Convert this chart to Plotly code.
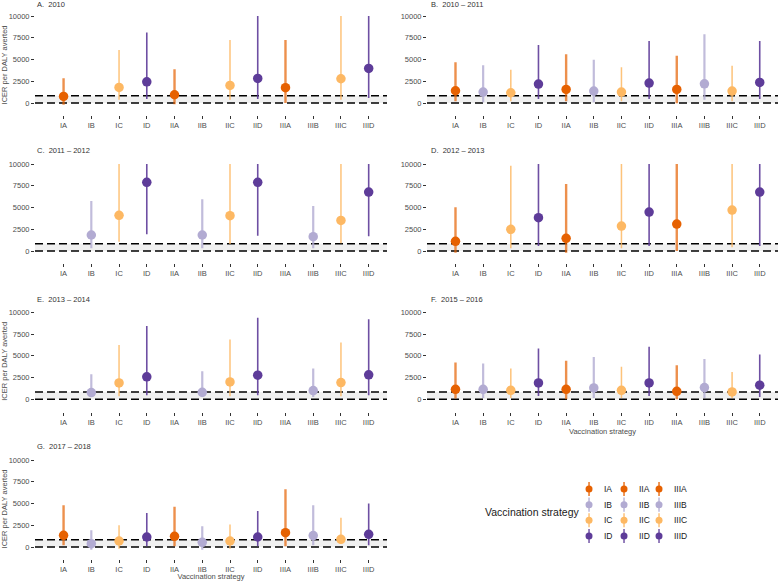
import plotly.graph_objects as go

# === DATOS ===
strategies = ['IA', 'IB', 'IC', 'ID', 'IIA', 'IIB', 'IIC', 'IID', 'IIIA', 'IIIB', 'IIIC', 'IIID']
romans = ['I', 'II', 'III']
letters = ['A', 'B', 'C', 'D']
letter_colors = ['#e66101', '#b2abd2', '#fdb863', '#5e3c99']
line_colors = ['rgba(230,97,1,0.7)', 'rgba(178,171,210,0.8)', 'rgba(253,184,99,0.85)', 'rgba(94,60,153,0.9)']
line_widths = [2.4, 2.2, 1.5, 1.6]
threshold = 830  # linea discontinua superior (umbral)

panel_titles = ['A.  2010', 'B.  2010 – 2011', 'C.  2011 – 2012', 'D.  2012 – 2013',
                'E.  2013 – 2014', 'F.  2015 – 2016', 'G.  2017 – 2018']

# A. 2010
a_est = [760, None, 1790, 2440, 950, None, 2020, 2820, 1760, None, 2790, 3970]
a_lo = [-200, None, 380, 460, -150, None, 380, 460, 0, None, 380, 570]
a_hi = [2860, None, 6100, 8090, 3890, None, 7250, 10000, 7250, None, 10000, 10000]
# B. 2010 - 2011
b_est = [1410, 1260, 1180, 2180, 1560, 1370, 1260, 2290, 1560, 2210, 1370, 2370]
b_lo = [190, 80, 190, 460, 190, 80, 190, 460, -30, 380, 190, 460]
b_hi = [4690, 4350, 3820, 6680, 5610, 4960, 4120, 7140, 5420, 7900, 4270, 7140]
# C. 2011 - 2012
c_est = [None, 1840, 4100, 7890, None, 1840, 4060, 7890, None, 1650, 3520, 6780]
c_lo = [None, 310, 1070, 1920, None, 310, 800, 1760, None, 310, 880, 1690]
c_hi = [None, 5750, 10000, 10000, None, 5940, 10000, 10000, None, 5170, 10000, 10000]
# D. 2012 - 2013
d_est = [1110, None, 2490, 3830, 1460, None, 2870, 4480, 3100, None, 4710, 6780]
d_lo = [-190, None, 310, 570, -190, None, 310, 570, 0, None, 420, 570]
d_hi = [5020, None, 9810, 10000, 7700, None, 10000, 10000, 10000, None, 10000, 10000]
# E. 2013 - 2014
e_est = [None, 770, 1880, 2580, None, 810, 2000, 2770, None, 1000, 1920, 2810]
e_lo = [None, 270, 350, 460, None, 270, 350, 460, None, 270, 350, 460]
e_hi = [None, 2880, 6230, 8420, None, 3230, 6880, 9380, None, 3540, 6540, 9190]
# F. 2015 - 2016
f_est = [1150, 1150, 1040, 1880, 1150, 1310, 1040, 1880, 920, 1350, 850, 1620]
f_lo = [80, 150, 150, 380, 0, 150, 150, 380, 0, 150, 150, 270]
f_hi = [4230, 4120, 3540, 5850, 4420, 4850, 3730, 6040, 3920, 4620, 3150, 5150]
# G. 2017 - 2018
g_est = [1350, 380, 690, 1150, 1230, 540, 690, 1150, 1650, 1310, 880, 1460]
g_lo = [190, -310, -190, 80, 80, -310, -190, 80, 80, 190, 380, 190]
g_hi = [4810, 1920, 2500, 3920, 4620, 2380, 2580, 4150, 6650, 4810, 3350, 5000]

panels = [(a_est, a_lo, a_hi), (b_est, b_lo, b_hi), (c_est, c_lo, c_hi), (d_est, d_lo, d_hi),
          (e_est, e_lo, e_hi), (f_est, f_lo, f_hi), (g_est, g_lo, g_hi)]

# === LAYOUT ===
W, H = 778, 581
px_x = lambda p: p / W
px_y = lambda p: 1 - p / H

font_family = 'Liberation Sans, Arial, sans-serif'
x_dom = [[px_x(35), px_x(387)], [px_x(427), 1.0]]
row_px = [(14.7, 115.2), (162.7, 263.2), (311.0, 411.5), (458.7, 559.2)]
y_dom = [[px_y(b), px_y(t)] for t, b in row_px]
title_y_px = [5, 150, 299, 446]
title_x_px = [35, 429]

fig = go.Figure()
shapes = []
annotations = []

for k, (est, lo, hi) in enumerate(panels):
    row, col = divmod(k, 2)
    ax = '' if k == 0 else str(k + 1)
    xa, ya = 'x' + ax, 'y' + ax

    for li, L in enumerate(letters):
        idx = [strategies.index(r + L) for r in romans]
        xs = [strategies[i] for i in idx]
        ys = [est[i] for i in idx]
        up = [hi[i] - est[i] if est[i] is not None else None for i in idx]
        dn = [est[i] - lo[i] if est[i] is not None else None for i in idx]
        fig.add_trace(go.Scatter(
            x=xs, y=ys, mode='markers',
            marker=dict(color=letter_colors[li], size=9.5, line=dict(width=0)),
            error_y=dict(type='data', symmetric=False, array=up, arrayminus=dn,
                         color=line_colors[li], thickness=line_widths[li], width=0),
            xaxis=xa, yaxis=ya, showlegend=False, hoverinfo='x+y'
        ))

    fig.layout['xaxis' + ax] = dict(
        domain=x_dom[col], anchor=ya, type='category',
        categoryorder='array', categoryarray=strategies,
        range=[-1.03, 11.66], showgrid=False, zeroline=False, showline=False,
        ticks='outside', ticklen=3, tickcolor='#333333', tickwidth=1,
        tickfont=dict(size=7.5, color='#4d4d4d'), automargin=False,
        title=dict(text='Vaccination strategy' if k in (5, 6) else '',
                   font=dict(size=7.5, color='#4d4d4d'), standoff=3)
    )
    fig.layout['yaxis' + ax] = dict(
        domain=y_dom[row], anchor=xa, range=[-1400, 10150],
        tickvals=[0, 2500, 5000, 7500, 10000], tickformat='d',
        showgrid=False, zeroline=False, showline=False,
        ticks='outside', ticklen=3, tickcolor='#333333', tickwidth=1,
        tickfont=dict(size=7.5, color='#4d4d4d'), automargin=False,
        title=dict(text='ICER per DALY averted' if k in (0, 4, 6) else '',
                   font=dict(size=7.5, color='#4d4d4d'), standoff=2)
    )

    # banda gris y lineas discontinuas (debajo de los puntos)
    shapes.append(dict(type='rect', xref=xa + ' domain', yref=ya, x0=0, x1=1, y0=0, y1=threshold,
                       fillcolor='rgba(225,225,225,0.5)', line=dict(width=0), layer='below'))
    for yv in (0, threshold):
        shapes.append(dict(type='line', xref=xa + ' domain', yref=ya, x0=0, x1=1, y0=yv, y1=yv,
                           line=dict(color='black', width=1.5, dash='8px,4px'), layer='below'))

    annotations.append(dict(text=panel_titles[k], xref='paper', yref='paper',
                            x=px_x(title_x_px[col]), y=px_y(title_y_px[row]),
                            xanchor='left', yanchor='middle', showarrow=False,
                            font=dict(size=7.5, color='#333333')))

# === LEYENDA MANUAL ===
for li, L in enumerate(letters):
    fig.add_trace(go.Scatter(
        x=list(range(len(romans))), y=[li] * len(romans), mode='markers',
        marker=dict(color=letter_colors[li], size=7),
        error_y=dict(type='constant', value=0.45, color=letter_colors[li], thickness=1.3, width=0),
        xaxis='x8', yaxis='y8', showlegend=False, hoverinfo='skip'
    ))
    for ri, r in enumerate(romans):
        annotations.append(dict(text=r + L, xref='x8', yref='y8', x=ri + 0.37, y=li,
                                xanchor='left', yanchor='middle', showarrow=False,
                                font=dict(size=8.5, color='#1a1a1a')))

fig.layout['xaxis8'] = dict(domain=[px_x(427), 1.0], anchor='y8', range=[-4.63, 5.40], visible=False)
fig.layout['yaxis8'] = dict(domain=y_dom[3], anchor='x8', range=[4.48, -1.93], visible=False)
annotations.append(dict(text='Vaccination strategy', xref='paper', yref='paper',
                        x=px_x(532), y=px_y(512), xanchor='center', yanchor='middle',
                        showarrow=False, font=dict(size=10.5, color='#1a1a1a')))

fig.update_layout(
    width=W, height=H, template='none',
    margin=dict(l=0, r=0, t=0, b=0),
    paper_bgcolor='white', plot_bgcolor='white',
    font=dict(family=font_family, color='#333333'),
    shapes=shapes, annotations=annotations, showlegend=False
)

# quitar el margen por defecto del <body> para que la figura ocupe toda la ventana
fig.write_html('out.html', config={'displayModeBar': False},
               post_script="document.body.style.margin = '0';")
